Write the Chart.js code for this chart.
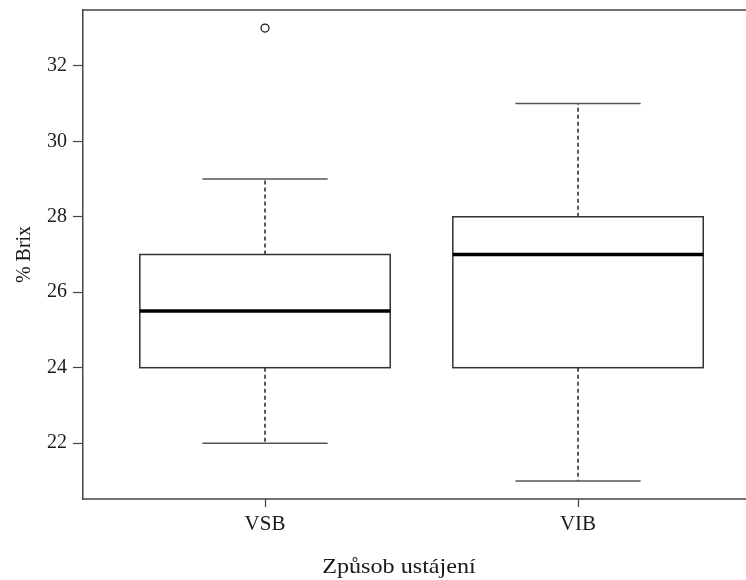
<!DOCTYPE html>
<html>
<head>
<meta charset="utf-8">
<script src="https://cdn.jsdelivr.net/npm/chart.js@4.4.1/dist/chart.umd.min.js"></script>
<style>
  html, body { margin: 0; padding: 0; background: #fff; overflow: hidden; }
  #wrap { width: 746px; height: 580px; }
  canvas { display: block; }
</style>
</head>
<body>
<div id="wrap"><canvas id="c" width="746" height="580"></canvas></div>
<script>
const categories = ['VSB', 'VIB'];
const positions = [1, 2];
const whiskerLow = [22, 21];
const q1 = [24, 24];
const median = [25.5, 27];
const q3 = [27, 28];
const whiskerHigh = [29, 31];
const outliers = [[33], []];
const yTicks = [22, 24, 26, 28, 30, 32];
const yAxisTitle = '% Brix';
const xAxisTitle = 'Způsob ustájení';

const SERIF = '"Liberation Serif", "Times New Roman", serif';
const BOX_HALF = 0.4;
const CAP_HALF = 0.2;

const outlierPoints = [];
outliers.forEach((arr, i) => arr.forEach(v => outlierPoints.push({ x: positions[i], y: v })));

const boxPlugin = {
  id: 'boxes',
  beforeDatasetsDraw(chart) {
    const { ctx, scales: { x, y }, chartArea } = chart;
    ctx.save();
    // frame: top and bottom lines run to the canvas edge
    ctx.strokeStyle = '#444';
    ctx.lineWidth = 1.5;
    ctx.beginPath();
    ctx.moveTo(chartArea.left, chartArea.top);
    ctx.lineTo(chart.width, chartArea.top);
    ctx.moveTo(chartArea.left, chartArea.bottom);
    ctx.lineTo(chart.width, chartArea.bottom);
    ctx.stroke();
    positions.forEach((p, i) => {
      const xc = x.getPixelForValue(p);
      const xl = x.getPixelForValue(p - BOX_HALF);
      const xr = x.getPixelForValue(p + BOX_HALF);
      const cl = x.getPixelForValue(p - CAP_HALF);
      const cr = x.getPixelForValue(p + CAP_HALF);
      const yq1 = y.getPixelForValue(q1[i]);
      const yq3 = y.getPixelForValue(q3[i]);
      const ym = y.getPixelForValue(median[i]);
      const ylo = y.getPixelForValue(whiskerLow[i]);
      const yhi = y.getPixelForValue(whiskerHigh[i]);
      ctx.strokeStyle = '#111';
      ctx.lineWidth = 1.4;
      ctx.setLineDash([4, 3]);
      ctx.beginPath();
      ctx.moveTo(xc, yq3); ctx.lineTo(xc, yhi);
      ctx.moveTo(xc, yq1); ctx.lineTo(xc, ylo);
      ctx.stroke();
      ctx.setLineDash([]);
      ctx.strokeStyle = '#555';
      ctx.lineWidth = 1.5;
      ctx.beginPath();
      ctx.moveTo(cl, yhi); ctx.lineTo(cr, yhi);
      ctx.moveTo(cl, ylo); ctx.lineTo(cr, ylo);
      ctx.stroke();
      ctx.fillStyle = '#fff';
      ctx.fillRect(xl, yq3, xr - xl, yq1 - yq3);
      ctx.strokeStyle = '#333';
      ctx.lineWidth = 1.5;
      ctx.strokeRect(xl, yq3, xr - xl, yq1 - yq3);
      ctx.strokeStyle = '#000';
      ctx.lineWidth = 3.5;
      ctx.beginPath();
      ctx.moveTo(xl, ym); ctx.lineTo(xr, ym);
      ctx.stroke();
    });
    ctx.restore();
  },
  afterDraw(chart) {
    const { ctx } = chart;
    ctx.save();
    ctx.fillStyle = '#1a1a1a';
    ctx.font = '21px ' + SERIF;
    ctx.textAlign = 'center';
    ctx.textBaseline = 'middle';
    ctx.translate(399, 567);
    ctx.scale(1.15, 1);
    ctx.fillText(xAxisTitle, 0, 0);
    ctx.restore();
  }
};

new Chart(document.getElementById('c'), {
  type: 'scatter',
  data: {
    datasets: [{
      label: 'outliers',
      data: outlierPoints,
      pointStyle: 'circle',
      pointRadius: 4,
      pointBorderWidth: 1.2,
      pointBorderColor: '#111',
      pointBackgroundColor: '#fff'
    }]
  },
  options: {
    responsive: false,
    animation: false,
    devicePixelRatio: 1,
    layout: { padding: { top: 10, right: 0, bottom: 0, left: 0 } },
    plugins: { legend: { display: false }, tooltip: { enabled: false } },
    scales: {
      x: {
        type: 'linear',
        min: 0.4185,
        max: 2.520,
        afterFit(s) { s.height = 81; s.paddingLeft = 0; s.paddingRight = 0; },
        afterBuildTicks(s) { s.ticks = positions.map(v => ({ value: v })); },
        ticks: {
          callback: (v) => categories[positions.indexOf(v)] || '',
          font: { family: SERIF, size: 21 },
          color: '#1a1a1a',
          padding: 5,
          maxRotation: 0,
          autoSkip: false
        },
        grid: { drawOnChartArea: false, tickLength: 8, tickColor: '#444', tickWidth: 1.2 },
        border: { display: false }
      },
      y: {
        type: 'linear',
        min: 20.52,
        max: 33.48,
        afterFit(s) { s.width = 83; s.paddingTop = 0; s.paddingBottom = 0; },
        afterBuildTicks(s) { s.ticks = yTicks.map(v => ({ value: v })); },
        ticks: {
          font: { family: SERIF, size: 20 },
          color: '#1a1a1a',
          padding: 6
        },
        grid: { drawOnChartArea: false, tickLength: 10, tickColor: '#444', tickWidth: 1.2 },
        border: { display: true, color: '#444', width: 1.5 },
        title: {
          display: true,
          text: yAxisTitle,
          font: { family: SERIF, size: 20 },
          color: '#1a1a1a',
          padding: { top: 13, bottom: 0 }
        }
      }
    }
  },
  plugins: [boxPlugin]
});
</script>
</body>
</html>
